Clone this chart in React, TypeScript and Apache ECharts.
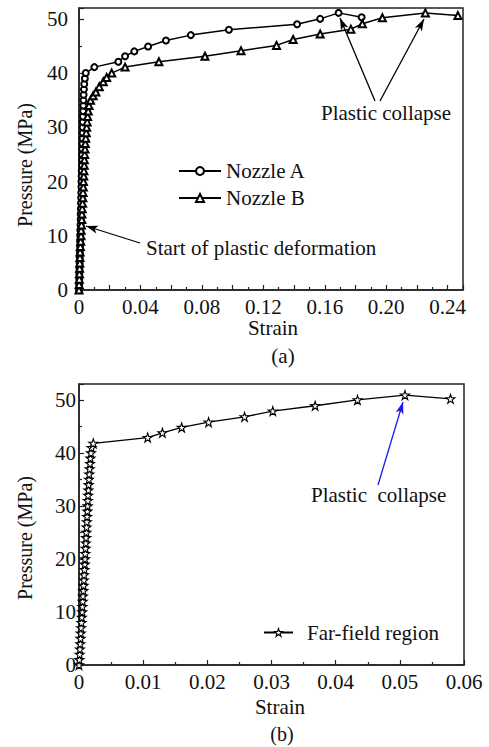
import React, { useEffect, useRef } from "react";
import * as echarts from "echarts";

// Chart (a): Nozzle A
const nozzleAStrain = [
  0, 0.0001, 0.0002, 0.0002, 0.0003, 0.0004, 0.0005, 0.0006, 0.0007, 0.0007,
  0.0008, 0.0009, 0.001, 0.0011, 0.0011, 0.0012, 0.0013, 0.0014, 0.0015, 0.0016,
  0.0016, 0.0017, 0.0018, 0.0019, 0.002, 0.002, 0.0021, 0.0022, 0.0023, 0.0024,
  0.0024, 0.0025, 0.0026, 0.0027, 0.0028, 0.0029, 0.003, 0.0032, 0.0034, 0.0038,
  0.0044, 0.01, 0.0256, 0.03, 0.036, 0.045, 0.0566, 0.0728, 0.0976, 0.142,
  0.157, 0.169, 0.184,
];
const nozzleAPressure = [
  0, 1, 2, 3, 4, 5, 6, 7, 8, 9,
  10, 11, 12, 13, 14, 15, 16, 17, 18, 19,
  20, 21, 22, 23, 24, 25, 26, 27, 28, 29,
  30, 31, 32, 33, 34, 35, 36, 37, 38, 39,
  40, 41.1, 42.1, 43.1, 44.0, 44.9, 46.0, 47.0, 48.0, 49.0,
  50.0, 51.1, 50.3,
];

// Chart (a): Nozzle B
const nozzleBStrain = [
  0, 0.0001, 0.0002, 0.0003, 0.0004, 0.0005, 0.0006, 0.0007, 0.0009, 0.0011,
  0.0013, 0.0014, 0.0016, 0.0018, 0.0019, 0.0021, 0.0023, 0.0025, 0.0026, 0.0028,
  0.0029, 0.0031, 0.0032, 0.0034, 0.0035, 0.0037, 0.0039, 0.0041, 0.0044, 0.0047,
  0.005, 0.0053, 0.0056, 0.006, 0.0065, 0.0075, 0.0092, 0.011, 0.0132, 0.0158,
  0.018, 0.0213, 0.03, 0.052, 0.082, 0.1055, 0.1286, 0.1394, 0.157, 0.177,
  0.1845, 0.1975, 0.2255, 0.2467,
];
const nozzleBPressure = [
  0, 1, 2, 3, 4, 5, 6, 7, 8, 9,
  10, 11, 12, 13, 14, 15, 16, 17, 18, 19,
  20, 21, 22, 23, 24, 25, 26, 27, 28, 29,
  30, 31, 32, 33, 34, 35, 35.8, 36.5, 37.5, 38.4,
  39.2, 40.0, 41.1, 42.1, 43.1, 44.1, 45.1, 46.2, 47.2, 48.1,
  49.1, 50.2, 51.1, 50.6,
];

// Chart (b): Far-field region
const farFieldStrain = [
  0, 0.00005, 0.0001, 0.00014, 0.00019, 0.00024, 0.00028, 0.00033, 0.00038, 0.00043,
  0.0005, 0.00053, 0.00058, 0.00062, 0.00067, 0.00071, 0.00076, 0.0008, 0.00085, 0.0009,
  0.00094, 0.00098, 0.00102, 0.00106, 0.0011, 0.00114, 0.00118, 0.00122, 0.00126, 0.0013,
  0.00134, 0.00138, 0.00142, 0.00146, 0.0015, 0.00155, 0.0016, 0.00166, 0.00172, 0.00178,
  0.00186, 0.00196, 0.00223, 0.0107, 0.013, 0.016, 0.0202, 0.0258, 0.0302, 0.0368,
  0.0434, 0.0508, 0.0579,
];
const farFieldPressure = [
  0, 1, 2, 3, 4, 5, 6, 7, 8, 9,
  10, 11, 12, 13, 14, 15, 16, 17, 18, 19,
  20, 21, 22, 23, 24, 25, 26, 27, 28, 29,
  30, 31, 32, 33, 34, 35, 36, 37, 38, 39,
  40, 41, 41.8, 42.9, 43.8, 44.8, 45.8, 46.8, 47.9, 48.9,
  50.0, 50.9, 50.2,
];

const yTicksA = [0, 10, 20, 30, 40, 50];
const xTicksA = ["0", "0.04", "0.08", "0.12", "0.16", "0.20", "0.24"];
const xTicksB = ["0", "0.01", "0.02", "0.03", "0.04", "0.05", "0.06"];

const FONT = "Liberation Serif";
const FS = 21;
const STAR =
  "path://M50,2 L61,36 L97,36 L68,57 L79,92 L50,70 L21,92 L32,57 L3,36 L39,36 Z";

const zip = (xs: number[], ys: number[]) => xs.map((x, i) => [x, ys[i]]);

export default function App() {
  const ref = useRef<HTMLDivElement>(null);
  useEffect(() => {
    if (!ref.current) return;
    const chart = echarts.init(ref.current, null, { renderer: "svg" });
    const axisColor = "#222";
    const labelStyle = { color: "#111", fontFamily: FONT, fontSize: FS };
    const txt = (text: string, extra: any, size = FS) => ({
      type: "text",
      ...extra,
      style: { text, fill: "#111", fontFamily: FONT, fontSize: size, ...(extra.style || {}) },
    });
    const baseX = {
      type: "value" as const,
      axisLine: { show: true, onZero: false, lineStyle: { color: axisColor, width: 1.5 } },
      axisTick: { show: true, inside: true, length: 5, lineStyle: { color: axisColor, width: 1.2 } },
      minorTick: { show: true, splitNumber: 2, length: 3, lineStyle: { color: axisColor, width: 1.2 } },
      splitLine: { show: false },
      minorSplitLine: { show: false },
    };
    const lineBase = {
      type: "line" as const,
      lineStyle: { color: "#000", width: 1.5 },
      showSymbol: true,
      silent: true,
    };
    const arrowLine = (pairs: any[], color: string) => ({
      silent: true,
      symbol: ["none", "arrow"],
      symbolSize: [6, 12],
      label: { show: false },
      lineStyle: { color, width: 1.3, type: "solid" },
      data: pairs,
    });

    chart.setOption({
      animation: false,
      textStyle: { fontFamily: FONT },
      grid: [
        { left: 79, top: 8, width: 384, height: 282, show: true, borderColor: axisColor, borderWidth: 1.5 },
        { left: 79, top: 384, width: 385, height: 281, show: true, borderColor: axisColor, borderWidth: 1.5 },
      ],
      xAxis: [
        {
          ...baseX,
          gridIndex: 0,
          min: 0,
          max: 0.25,
          interval: 0.02,
          axisLabel: {
            ...labelStyle,
            margin: 6,
            formatter: (v: number) => {
              const k = Math.round(v / 0.02);
              if (k % 2 !== 0) return "";
              return xTicksA[k / 2] ?? "";
            },
          },
        },
        {
          ...baseX,
          gridIndex: 1,
          min: 0,
          max: 0.06,
          interval: 0.01,
          axisLabel: {
            ...labelStyle,
            margin: 6,
            formatter: (v: number) => xTicksB[Math.round(v / 0.01)] ?? "",
          },
        },
      ],
      yAxis: [
        {
          ...baseX,
          gridIndex: 0,
          min: 0,
          max: 52,
          interval: 10,
          axisLabel: {
            ...labelStyle,
            margin: 11,
            formatter: (v: number) => (yTicksA.includes(v) ? String(v) : ""),
          },
        },
        {
          ...baseX,
          gridIndex: 1,
          min: 0,
          max: 53,
          interval: 10,
          axisLabel: {
            ...labelStyle,
            margin: 3,
            formatter: (v: number) => (yTicksA.includes(v) ? String(v) : ""),
          },
        },
      ],
      legend: [
        {
          data: ["Nozzle A", "Nozzle B"],
          orient: "vertical",
          left: 178,
          top: 160,
          padding: 0,
          itemWidth: 42,
          itemHeight: 10,
          itemGap: 5,
          textStyle: { ...labelStyle, lineHeight: 22 },
          selectedMode: false,
        },
        {
          data: [
            {
              name: "Far-field region",
              itemStyle: { color: "#fff", borderColor: "#000", borderWidth: 1.1 },
            },
          ],
          left: 263,
          top: 622,
          padding: 0,
          itemWidth: 29,
          itemHeight: 10,
          textStyle: { ...labelStyle, padding: [0, 0, 0, 9] },
          selectedMode: false,
        },
      ],
      series: [
        {
          ...lineBase,
          name: "Nozzle A",
          xAxisIndex: 0,
          yAxisIndex: 0,
          symbol: "emptyCircle",
          symbolSize: 6,
          itemStyle: { color: "#000", borderWidth: 1.2 },
          data: zip(nozzleAStrain, nozzleAPressure),
          markLine: arrowLine(
            [
              [{ x: 375, y: 101 }, { x: 340, y: 18 }],
              [{ x: 380, y: 101 }, { x: 424, y: 19 }],
              [{ x: 140, y: 243 }, { x: 86, y: 226 }],
            ],
            "#000"
          ),
        },
        {
          ...lineBase,
          name: "Nozzle B",
          xAxisIndex: 0,
          yAxisIndex: 0,
          symbol: "emptyTriangle",
          symbolSize: 7,
          itemStyle: { color: "#000", borderWidth: 1.2 },
          data: zip(nozzleBStrain, nozzleBPressure),
        },
        {
          ...lineBase,
          name: "Far-field region",
          xAxisIndex: 1,
          yAxisIndex: 1,
          symbol: STAR,
          symbolSize: 9,
          lineStyle: { color: "#000", width: 1.3 },
          itemStyle: { color: "#fff", borderColor: "#000", borderWidth: 1.1 },
          data: zip(farFieldStrain, farFieldPressure),
          markLine: arrowLine([[{ x: 378, y: 485 }, { x: 403, y: 402 }]], "#1a1aee"),
        },
      ],
      graphic: [
        txt("Plastic collapse", { left: 321, top: 102 }),
        txt("Start of plastic deformation", { left: 146, top: 237 }),
        txt("Plastic  collapse", { left: 311, top: 484 }),
        txt("Strain", { x: 273, y: 328, style: { align: "center", verticalAlign: "middle" } }),
        txt("(a)", { x: 283, y: 356, style: { align: "center", verticalAlign: "middle" } }),
        txt("Strain", { x: 280, y: 707, style: { align: "center", verticalAlign: "middle" } }),
        txt("(b)", { x: 282, y: 734, style: { align: "center", verticalAlign: "middle" } }, 20),
        txt("Pressure (MPa)", { x: 25, y: 165, rotation: Math.PI / 2, style: { align: "center", verticalAlign: "middle" } }, 20),
        txt("Pressure (MPa)", { x: 25, y: 538, rotation: Math.PI / 2, style: { align: "center", verticalAlign: "middle" } }, 20),
      ],
    });
    return () => chart.dispose();
  }, []);
  return (
    <div
      ref={ref}
      style={{ position: "fixed", left: 0, top: 0, width: 489, height: 747, background: "#fff" }}
    />
  );
}
